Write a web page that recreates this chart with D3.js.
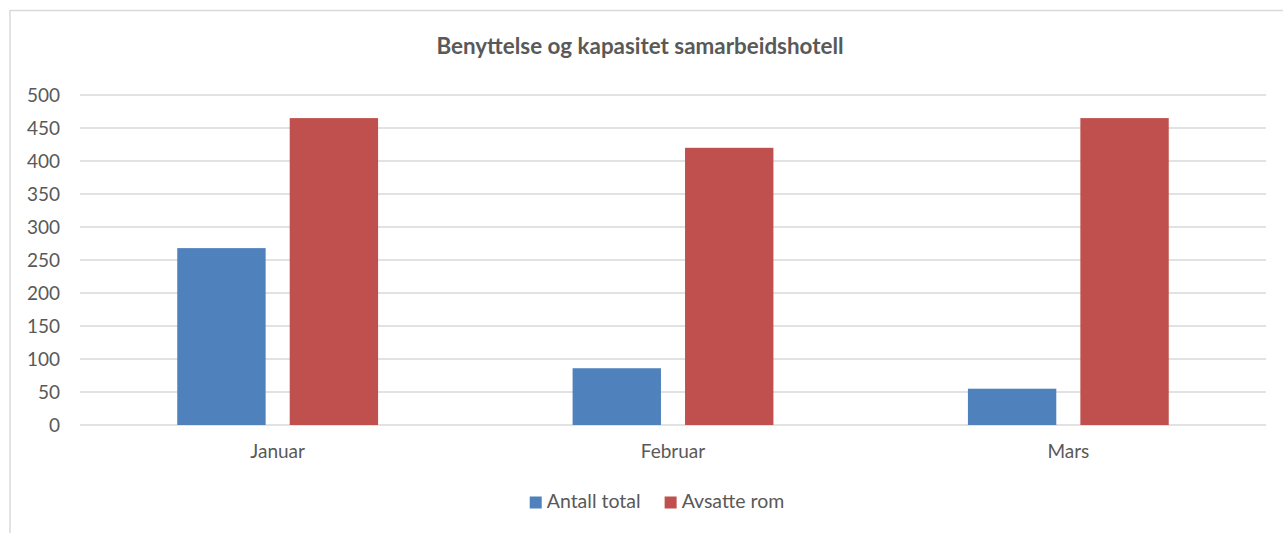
<!DOCTYPE html>
<html>
<head>
<meta charset="utf-8">
<script src="https://cdn.jsdelivr.net/npm/d3@7"></script>
<style>
  body { margin: 0; background: #fff; }
  svg { display: block; font-family: Lato, "Open Sans", sans-serif; }
</style>
</head>
<body>
<svg id="chart" width="1283" height="533"></svg>
<script>
const months = ["Januar", "Februar", "Mars"];
const seriesNames = ["Antall total", "Avsatte rom"];
const antallTotal = [268, 86, 55];
const avsatteRom = [465, 420, 465];
const yTicks = [0, 50, 100, 150, 200, 250, 300, 350, 400, 450, 500];
const colors = ["#4F81BD", "#C0504D"];

const width = 1283;
const height = 533;
const plot = { left: 80, right: 1266, top: 95, bottom: 425 };
const textColor = "#595959";
const gridColor = "#D9D9D9";

const svg = d3.select("#chart");

// chart frame (runs off the right and bottom of the picture)
svg.append("rect")
  .attr("x", 10)
  .attr("y", 10.5)
  .attr("width", width + 20)
  .attr("height", height + 20)
  .attr("fill", "#fff")
  .attr("stroke", gridColor)
  .attr("stroke-width", 1.5);

const rows = months.map((m, i) => ({
  month: m,
  values: [antallTotal[i], avsatteRom[i]]
}));

const x0 = d3.scaleBand()
  .domain(months)
  .range([plot.left, plot.right])
  .paddingInner(0.492)
  .paddingOuter(0.246);

const x1 = d3.scaleBand()
  .domain(seriesNames)
  .range([0, x0.bandwidth()])
  .paddingInner(0.214);

const y = d3.scaleLinear()
  .domain([0, 500])
  .range([plot.bottom, plot.top]);

// gridlines
svg.append("g")
  .selectAll("line")
  .data(yTicks)
  .enter()
  .append("line")
  .attr("x1", plot.left)
  .attr("x2", plot.right)
  .attr("y1", (d) => y(d))
  .attr("y2", (d) => y(d))
  .attr("stroke", gridColor)
  .attr("stroke-width", 1.5);

// y axis labels
const yAxis = d3.axisLeft(y).tickValues(yTicks).tickSize(0).tickPadding(20);
svg.append("g")
  .attr("transform", "translate(" + plot.left + ",0)")
  .call(yAxis)
  .call((g) => g.select(".domain").remove())
  .selectAll("text")
  .attr("fill", textColor)
  .style("font-size", "19px")
  .style("font-family", "Lato, 'Open Sans', sans-serif");

// x axis labels
const xAxis = d3.axisBottom(x0).tickSize(0).tickPadding(20);
svg.append("g")
  .attr("transform", "translate(0," + plot.bottom + ")")
  .call(xAxis)
  .call((g) => g.select(".domain").remove())
  .selectAll("text")
  .attr("fill", textColor)
  .style("font-size", "19px")
  .style("font-family", "Lato, 'Open Sans', sans-serif");

// bars
const groups = svg.append("g")
  .selectAll("g")
  .data(rows)
  .enter()
  .append("g")
  .attr("transform", (d) => "translate(" + x0(d.month) + ",0)");

groups.selectAll("rect")
  .data((d) => d.values.map((v, i) => ({ name: seriesNames[i], value: v, idx: i })))
  .enter()
  .append("rect")
  .attr("x", (d) => x1(d.name))
  .attr("y", (d) => y(d.value))
  .attr("width", x1.bandwidth())
  .attr("height", (d) => y(0) - y(d.value))
  .attr("fill", (d) => colors[d.idx]);

// title
svg.append("text")
  .attr("x", 640)
  .attr("y", 54)
  .attr("text-anchor", "middle")
  .attr("fill", textColor)
  .style("font-size", "22.4px")
  .style("font-weight", "bold")
  .text("Benyttelse og kapasitet samarbeidshotell");

// legend
const legend = svg.append("g").attr("transform", "translate(0,508)");
const items = legend.selectAll("g")
  .data(seriesNames)
  .enter()
  .append("g");

items.append("rect")
  .attr("y", -11.5)
  .attr("width", 12)
  .attr("height", 12)
  .attr("fill", (d, i) => colors[i]);

items.append("text")
  .attr("x", 17)
  .attr("fill", textColor)
  .style("font-size", "19.5px")
  .text((d) => d);

let offset = 0;
const placed = [];
items.each(function () {
  const w = d3.select(this).select("text").node().getComputedTextLength() + 17;
  placed.push(offset);
  offset += w + 24;
});
const total = offset - 24;
const startX = 657 - total / 2;
items.attr("transform", (d, i) => "translate(" + (startX + placed[i]) + ",0)");
</script>
</body>
</html>
